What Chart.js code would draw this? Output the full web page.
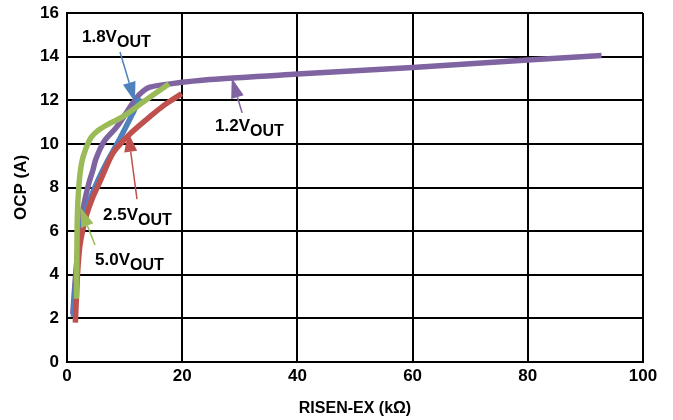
<!DOCTYPE html>
<html>
<head>
<meta charset="utf-8">
<script src="https://cdn.jsdelivr.net/npm/chart.js@4.4.1/dist/chart.umd.min.js"></script>
<style>
  html, body { margin: 0; padding: 0; background: #ffffff; }
  #wrap { width: 673px; height: 420px; position: relative; }
</style>
</head>
<body>
<div id="wrap"><canvas id="c" width="673" height="420"></canvas></div>
<script>
// ---- data ----
const xTickValues = [0, 20, 40, 60, 80, 100];
const yTickValues = [0, 2, 4, 6, 8, 10, 12, 14, 16];
const xTitle = 'RISEN-EX (k\u03A9)';
const yTitle = 'OCP (A)';

const purpleX = [1.0, 1.5, 2.2, 3.0, 3.8, 4.5, 5.0, 6.4, 8.7, 11.5, 12.7, 14.4, 17.9, 24.8, 40, 60, 80, 92.8];
const purpleY = [2.2, 4.0, 6.0, 7.3, 8.2, 8.8, 9.3, 10.1, 10.8, 11.9, 12.3, 12.6, 12.75, 12.95, 13.2, 13.5, 13.85, 14.05];

const blueX = [1.1, 1.6, 2.2, 3.0, 4.2, 5.5, 7.0, 9.3, 11.6, 12.7];
const blueY = [2.07, 4.0, 5.6, 6.7, 7.6, 8.4, 9.2, 10.3, 11.5, 12.1];

const redX = [1.45, 1.8, 2.1, 2.4, 3.3, 4.4, 5.6, 7.6, 8.6, 11.1, 14.4, 17.0, 19.9];
const redY = [1.8, 3.9, 5.0, 5.6, 6.66, 7.5, 8.2, 9.4, 9.8, 10.5, 11.25, 11.8, 12.3];

const greenX = [1.65, 1.72, 1.8, 2.1, 2.6, 3.3, 4.2, 5.3, 6.8, 9.7, 13.4, 17.7];
const greenY = [2.9, 5.0, 6.7, 8.2, 9.2, 9.8, 10.3, 10.6, 10.85, 11.25, 11.95, 12.75];

const seriesNames = ['1.2V', '1.8V', '2.5V', '5.0V'];
const seriesSub = 'OUT';

// label anchors (data units) and arrows (data units: from -> tip)
const labelX = [25.7, 2.6, 6.25, 4.86];
const labelY = [10.59, 14.67, 6.51, 4.45];
const arrowFromX = [30.4, 9.2, 12.15, 4.86];
const arrowFromY = [11.42, 14.21, 7.47, 5.36];
const arrowTipX = [28.6, 11.8, 10.6, 2.26];
const arrowTipY = [13.02, 11.92, 10.55, 7.11];

const colors = ['#8064A2', '#4F81BD', '#C0504D', '#9BBB59'];

function pts(xs, ys) { return xs.map((x, i) => ({ x: x, y: ys[i] })); }

const FONT = "'Liberation Sans', Arial, sans-serif";

const annotationPlugin = {
  id: 'annot',
  afterDatasetsDraw(chart) {
    const ctx = chart.ctx;
    const xs = chart.scales.x, ys = chart.scales.y;
    ctx.save();
    for (let i = 0; i < seriesNames.length; i++) {
      const c = colors[i];
      const fx = xs.getPixelForValue(arrowFromX[i]);
      const fy = ys.getPixelForValue(arrowFromY[i]);
      const tx = xs.getPixelForValue(arrowTipX[i]);
      const ty = ys.getPixelForValue(arrowTipY[i]);
      const ang = Math.atan2(ty - fy, tx - fx);
      const headLen = 20, headW = 6.5;
      const bx = tx - headLen * Math.cos(ang), by = ty - headLen * Math.sin(ang);
      ctx.strokeStyle = c;
      ctx.lineWidth = 1.5;
      ctx.beginPath();
      ctx.moveTo(fx, fy);
      ctx.lineTo(bx, by);
      ctx.stroke();
      ctx.fillStyle = c;
      ctx.beginPath();
      ctx.moveTo(tx, ty);
      ctx.lineTo(bx + headW * Math.sin(ang), by - headW * Math.cos(ang));
      ctx.lineTo(bx - headW * Math.sin(ang), by + headW * Math.cos(ang));
      ctx.closePath();
      ctx.fill();

      // label
      const lx = xs.getPixelForValue(labelX[i]);
      const ly = ys.getPixelForValue(labelY[i]);
      ctx.fillStyle = '#000000';
      ctx.textAlign = 'left';
      ctx.textBaseline = 'alphabetic';
      ctx.font = 'bold 17px ' + FONT;
      ctx.fillText(seriesNames[i], lx, ly);
      const w = ctx.measureText(seriesNames[i]).width;
      ctx.font = 'bold 16px ' + FONT;
      ctx.fillText(seriesSub, lx + w, ly + 5);
    }
    ctx.restore();
  }
};

const mk = (xs, ys, idx, order) => ({
  label: seriesNames[idx],
  data: pts(xs, ys),
  borderColor: colors[idx],
  backgroundColor: colors[idx],
  borderWidth: 5.5,
  pointRadius: 0,
  showLine: true,
  tension: 0.3,
  borderCapStyle: 'butt',
  borderJoinStyle: 'round',
  order: order
});

new Chart(document.getElementById('c'), {
  type: 'scatter',
  data: {
    datasets: [
      mk(purpleX, purpleY, 0, 3),
      mk(blueX, blueY, 1, 2),
      mk(redX, redY, 2, 1),
      mk(greenX, greenY, 3, 0)
    ]
  },
  options: {
    responsive: false,
    animation: false,
    devicePixelRatio: 1,
    layout: { padding: { left: 0, right: 30, top: 13, bottom: 0 } },
    plugins: { legend: { display: false }, tooltip: { enabled: false } },
    scales: {
      x: {
        type: 'linear', min: 0, max: 100,
        afterBuildTicks: s => { s.ticks = xTickValues.map(v => ({ value: v })); },
        afterFit: s => { s.height = 58; s.paddingLeft = 0; s.paddingRight = 0; },
        grid: { color: '#000000', lineWidth: 2, drawTicks: false },
        border: { display: true, color: '#000000', width: 2 },
        ticks: { color: '#000000', padding: 4, font: { family: FONT, size: 17, weight: 'bold' }, maxRotation: 0 },
        title: { display: true, text: xTitle, color: '#000000', padding: { top: 0, bottom: 2 }, font: { family: FONT, size: 16, weight: 'bold' } }
      },
      y: {
        type: 'linear', min: 0, max: 16,
        afterBuildTicks: s => { s.ticks = yTickValues.map(v => ({ value: v })); },
        afterFit: s => { s.width = 67; s.paddingTop = 0; s.paddingBottom = 0; },
        grid: { color: '#000000', lineWidth: 2, drawTicks: false },
        border: { display: true, color: '#000000', width: 2 },
        ticks: { color: '#000000', padding: 8, font: { family: FONT, size: 17, weight: 'bold' } },
        title: { display: true, text: yTitle, color: '#000000', padding: { top: 11, bottom: 0 }, font: { family: FONT, size: 17, weight: 'bold' } }
      }
    }
  },
  plugins: [annotationPlugin]
});
</script>
</body>
</html>
